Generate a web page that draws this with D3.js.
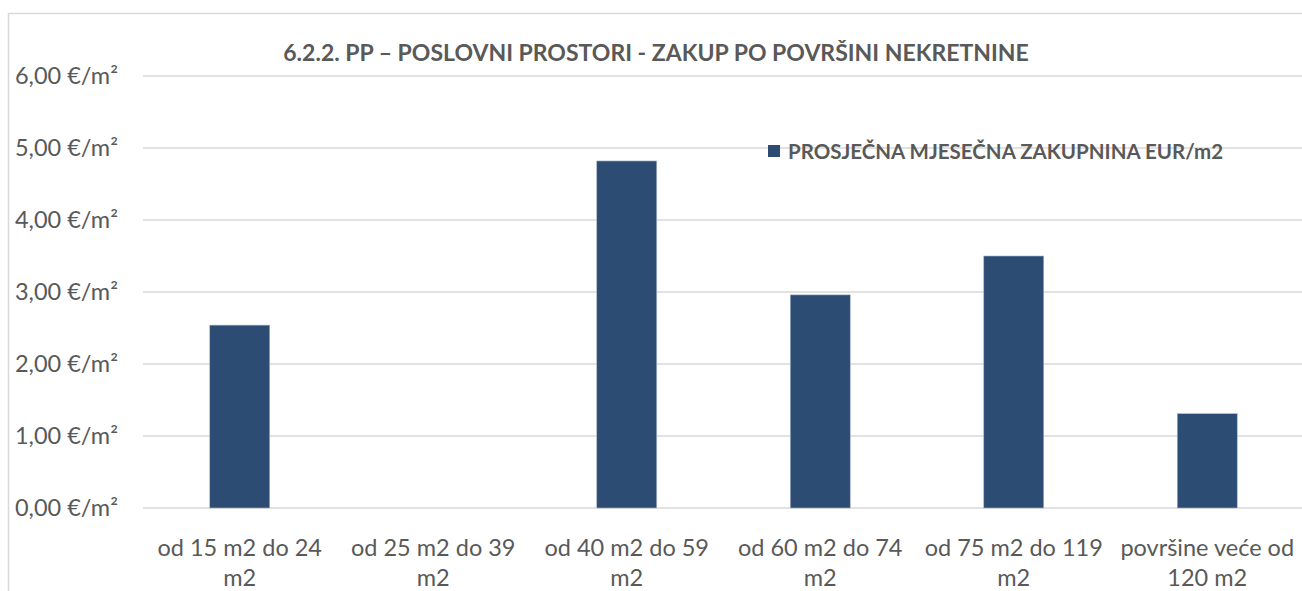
<!DOCTYPE html>
<html>
<head>
<meta charset="utf-8">
<script src="https://cdn.jsdelivr.net/npm/d3@7"></script>
<style>
  body { margin: 0; background: #fff; }
  #container { width: 1302px; height: 591px; position: relative; }
  text { font-family: Lato, "Open Sans", sans-serif; fill: #595959; }
</style>
</head>
<body>
<div id="container"></div>
<script>
// chart values
const categories = [
  ["od 15 m2 do 24", "m2"],
  ["od 25 m2 do 39", "m2"],
  ["od 40 m2 do 59", "m2"],
  ["od 60 m2 do 74", "m2"],
  ["od 75 m2 do 119", "m2"],
  ["površine veće od", "120 m2"]
];
const rent = [2.54, 0, 4.82, 2.96, 3.50, 1.31];
const yTicks = [0, 1, 2, 3, 4, 5, 6];
const title = "6.2.2. PP – POSLOVNI PROSTORI - ZAKUP PO POVRŠINI NEKRETNINE";
const seriesName = "PROSJEČNA MJESEČNA ZAKUPNINA EUR/m2";

const width = 1302, height = 591;
const margin = { top: 76, right: -2, bottom: 83, left: 143 };
const chartWidth = width - margin.left - margin.right;
const chartHeight = height - margin.top - margin.bottom;

const svg = d3.select("#container").append("svg")
  .attr("width", width)
  .attr("height", height);

// outer chart border (only top and left visible in the frame)
svg.append("path")
  .attr("d", "M8.5," + height + " V13.5 H" + width)
  .attr("fill", "none")
  .attr("stroke", "#d9d9d9")
  .attr("stroke-width", 1.5);

const xScale = d3.scaleBand()
  .domain(d3.range(categories.length))
  .range([0, chartWidth])
  .paddingInner(0.69)
  .paddingOuter(0.345);
const yScale = d3.scaleLinear().domain([0, 6]).range([chartHeight, 0]);

const plot = svg.append("g").attr("transform", "translate(" + margin.left + "," + margin.top + ")");

// gridlines
plot.selectAll("line.grid")
  .data(yTicks)
  .join("line")
  .attr("class", "grid")
  .attr("x1", 0)
  .attr("x2", chartWidth)
  .attr("y1", d => yScale(d))
  .attr("y2", d => yScale(d))
  .attr("stroke", "#d9d9d9")
  .attr("stroke-width", 1.5);

// y labels
plot.selectAll("text.ylab")
  .data(yTicks)
  .join("text")
  .attr("class", "ylab")
  .attr("x", -25)
  .attr("y", d => yScale(d) + 8)
  .attr("text-anchor", "end")
  .style("font-size", "23.5px")
  .text(d => d3.format(".2f")(d).replace(".", ",") + " €/m²");

// bars
plot.selectAll("rect.bar")
  .data(rent)
  .join("rect")
  .attr("class", "bar")
  .attr("x", (d, i) => xScale(i))
  .attr("y", d => yScale(d))
  .attr("width", xScale.bandwidth())
  .attr("height", d => chartHeight - yScale(d))
  .attr("fill", "#2c4c74")
  .attr("stroke", d => d > 0 ? "#a9b8cc" : "none")
  .attr("stroke-width", 0.6);

// x labels
const xl = plot.selectAll("text.xlab")
  .data(categories)
  .join("text")
  .attr("class", "xlab")
  .attr("text-anchor", "middle")
  .style("font-size", "23.5px");
xl.each(function(lines, i) {
  const t = d3.select(this);
  lines.forEach((ln, j) => {
    t.append("tspan")
      .attr("x", xScale(i) + xScale.bandwidth() / 2)
      .attr("y", chartHeight + 48 + j * 30)
      .text(ln);
  });
});

// title
svg.append("text")
  .attr("x", 656)
  .attr("y", 61)
  .attr("text-anchor", "middle")
  .style("font-size", "23px")
  .style("font-weight", "bold")
  .text(title);

// legend
svg.append("rect")
  .attr("x", 768)
  .attr("y", 145)
  .attr("width", 12)
  .attr("height", 12)
  .attr("fill", "#2c4c74");
svg.append("text")
  .attr("x", 788)
  .attr("y", 159)
  .style("font-size", "20.5px")
  .style("font-weight", "bold")
  .text(seriesName);
</script>
</body>
</html>
